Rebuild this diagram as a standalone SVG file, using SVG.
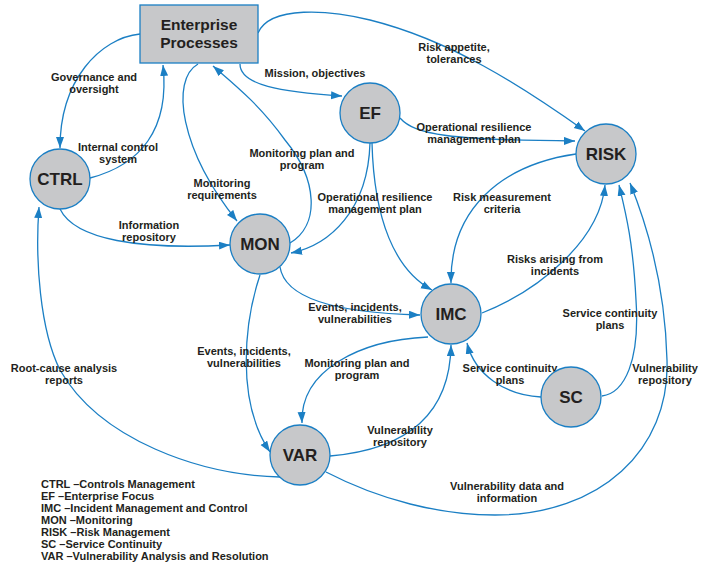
<svg xmlns="http://www.w3.org/2000/svg" width="708" height="565" viewBox="0 0 708 565">
<style>
.bg{fill:#ffffff}
.node{fill:#c7c8ca;stroke:#1b7fc4;stroke-width:1.3}
.nt{font-family:"Liberation Sans",Arial,sans-serif;font-weight:bold;font-size:17px;fill:#231f20;text-anchor:middle}
.et{font-size:15.5px}
.edge{fill:none;stroke:#1b7fc4;stroke-width:1.3;marker-end:url(#ah)}
.lb{font-family:"Liberation Sans",Arial,sans-serif;font-weight:bold;font-size:11px;fill:#231f20;text-anchor:middle}
.lg{font-family:"Liberation Sans",Arial,sans-serif;font-weight:bold;font-size:11px;fill:#231f20}
</style>
<defs>
<marker id="ah" markerUnits="userSpaceOnUse" markerWidth="12" markerHeight="10" refX="11" refY="4" orient="auto">
<path d="M0,0 L11,4 L0,8 Z" fill="#1b7fc4"/>
</marker>
</defs>
<rect class="bg" width="708" height="565"/>
<g id="connectors">
<path class="edge" d="M140,34 C100,38 60,80 60,148"/>
<path class="edge" d="M90,178 C140,165 170,130 163,65"/>
<path class="edge" d="M198,64 C170,80 180,150 237,221"/>
<path class="edge" d="M290,243 C320,225 318,180 285,140 C260,105 235,85 213,66"/>
<path class="edge" d="M240,64 C240,85 280,92 342,96"/>
<path class="edge" d="M258,33 C270,5 330,10 370,20 C450,40 520,85 585,131"/>
<path class="edge" d="M400,118 C415,135 450,140 575,141"/>
<path class="edge" d="M576,154 C500,165 450,210 451,283"/>
<path class="edge" d="M482,313 C540,290 600,240 605,185"/>
<path class="edge" d="M370,143 C368,210 330,245 291,253"/>
<path class="edge" d="M372,143 C374,220 395,270 432,290"/>
<path class="edge" d="M280,267 C285,300 340,313 420,315"/>
<path class="edge" d="M260,275 C245,320 235,400 270,452"/>
<path class="edge" d="M428,337 C360,340 300,370 302,423"/>
<path class="edge" d="M330,456 C400,450 450,420 451,345"/>
<path class="edge" d="M541,397 C505,395 475,375 467,343"/>
<path class="edge" d="M602,396 C625,393 640,360 636,300 C633,240 625,210 619,185"/>
<path class="edge" d="M326,472 C380,500 440,515 495,515 C600,515 670,450 667,360 C665,280 645,220 630,183"/>
<path class="edge" d="M280,477 C200,475 100,440 60,370 C40,330 35,260 39,207"/>
<path class="edge" d="M60,209 C75,240 140,250 230,245"/>
</g>
<g id="labels">
<text class="lb" x="94" y="81">Governance and</text>
<text class="lb" x="94" y="93">oversight</text>
<text class="lb" x="118" y="151">Internal control</text>
<text class="lb" x="118" y="163">system</text>
<text class="lb" x="222" y="187">Monitoring</text>
<text class="lb" x="222" y="199">requirements</text>
<text class="lb" x="302" y="157">Monitoring plan and</text>
<text class="lb" x="302" y="169">program</text>
<text class="lb" x="315" y="77">Mission, objectives</text>
<text class="lb" x="454" y="51">Risk appetite,</text>
<text class="lb" x="454" y="63">tolerances</text>
<text class="lb" x="474" y="131">Operational resilience</text>
<text class="lb" x="474" y="143">management plan</text>
<text class="lb" x="502" y="201">Risk measurement</text>
<text class="lb" x="502" y="213">criteria</text>
<text class="lb" x="555" y="263">Risks arising from</text>
<text class="lb" x="555" y="275">incidents</text>
<text class="lb" x="375" y="201">Operational resilience</text>
<text class="lb" x="375" y="213">management plan</text>
<text class="lb" x="355" y="311">Events, incidents,</text>
<text class="lb" x="355" y="323">vulnerabilities</text>
<text class="lb" x="244" y="355">Events, incidents,</text>
<text class="lb" x="244" y="367">vulnerabilities</text>
<text class="lb" x="357" y="367">Monitoring plan and</text>
<text class="lb" x="357" y="379">program</text>
<text class="lb" x="400" y="434">Vulnerability</text>
<text class="lb" x="400" y="446">repository</text>
<text class="lb" x="510" y="372">Service continuity</text>
<text class="lb" x="510" y="384">plans</text>
<text class="lb" x="610" y="317">Service continuity</text>
<text class="lb" x="610" y="329">plans</text>
<text class="lb" x="665" y="372">Vulnerability</text>
<text class="lb" x="665" y="384">repository</text>
<text class="lb" x="507" y="490">Vulnerability data and</text>
<text class="lb" x="507" y="502">information</text>
<text class="lb" x="64" y="372">Root-cause analysis</text>
<text class="lb" x="64" y="384">reports</text>
<text class="lb" x="149" y="229">Information</text>
<text class="lb" x="149" y="241">repository</text>
</g>
<g id="EP">
<rect class="node" x="140" y="5" width="118" height="58"/>
<text class="nt et" x="199" y="30">Enterprise</text>
<text class="nt et" x="199" y="48">Processes</text>
</g>
<g id="CTRL"><circle class="node" cx="60" cy="179" r="30"/><text class="nt" x="60" y="185">CTRL</text></g>
<g id="MON"><circle class="node" cx="260" cy="244" r="30"/><text class="nt" x="260" y="250">MON</text></g>
<g id="EF"><circle class="node" cx="370" cy="113" r="30"/><text class="nt" x="370" y="119">EF</text></g>
<g id="RISK"><circle class="node" cx="606" cy="154" r="30"/><text class="nt" x="606" y="160">RISK</text></g>
<g id="IMC"><circle class="node" cx="451" cy="314" r="30"/><text class="nt" x="451" y="320">IMC</text></g>
<g id="SC"><circle class="node" cx="571" cy="397" r="30"/><text class="nt" x="571" y="403">SC</text></g>
<g id="VAR"><circle class="node" cx="300" cy="455" r="30"/><text class="nt" x="300" y="461">VAR</text></g>
<g id="legend">
<text class="lg" x="41" y="488">CTRL –Controls Management</text>
<text class="lg" x="41" y="500">EF –Enterprise Focus</text>
<text class="lg" x="41" y="512">IMC –Incident Management and Control</text>
<text class="lg" x="41" y="524">MON –Monitoring</text>
<text class="lg" x="41" y="536">RISK –Risk Management</text>
<text class="lg" x="41" y="548">SC –Service Continuity</text>
<text class="lg" x="41" y="560">VAR –Vulnerability Analysis and Resolution</text>
</g>
</svg>
